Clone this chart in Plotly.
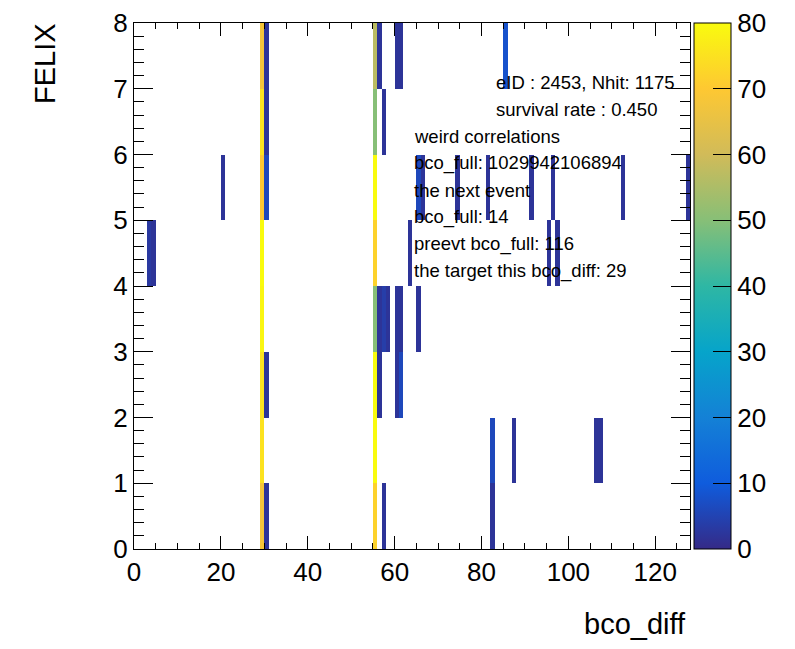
import plotly.graph_objects as go

# ---- data (bin index along bco_diff, FELIX row, bin content) ----
n_xbins = 128
n_ybins = 8
cell_x = [29, 29, 29, 29, 29, 29, 29, 29,
          30, 30, 30, 30, 30,
          20, 3, 4,
          55, 55, 55, 55, 55, 55, 55, 55,
          56, 56, 56,
          57, 57, 57,
          58,
          60, 60, 60,
          61, 61, 61,
          63, 65, 65, 66, 74, 81, 82, 82, 85, 87, 91, 95, 96, 97,
          106, 107, 112, 127]
cell_y = [0, 1, 2, 3, 4, 5, 6, 7,
          7, 6, 5, 2, 0,
          5, 4, 4,
          0, 1, 2, 3, 4, 5, 6, 7,
          7, 3, 2,
          6, 3, 0,
          3,
          7, 3, 2,
          7, 3, 2,
          4, 5, 3, 5, 5, 5, 1, 0, 7, 1, 5, 4, 5, 4,
          1, 1, 5, 5]
cell_val = [68, 75, 75, 79, 80, 70, 75, 68,
            2, 2, 6, 2, 2,
            2, 3, 2,
            72, 80, 80, 50, 72, 80, 50, 57,
            2, 2, 2,
            2, 4, 2,
            2,
            2, 2, 2,
            2, 2, 6,
            2, 6, 2, 2, 2, 2, 6, 2, 8, 2, 2, 2, 2, 2,
            2, 2, 2, 2]

x_tick_vals = [0, 20, 40, 60, 80, 100, 120]
y_tick_vals = [0, 1, 2, 3, 4, 5, 6, 7, 8]
cbar_tick_vals = [0, 10, 20, 30, 40, 50, 60, 70, 80]
info_lines = ["eID : 2453, Nhit: 1175", "survival rate : 0.450"]
note_lines = ["weird correlations", "bco_full: 1029942106894", "the next event",
              "bco_full: 14", "preevt bco_full: 116", "the target this bco_diff: 29"]

# ---- build grid ----
z = [[None] * n_xbins for _ in range(n_ybins)]
for bx, by, v in zip(cell_x, cell_y, cell_val):
    z[by][bx] = v
x_centers = [i + 0.5 for i in range(n_xbins)]
y_centers = [j + 0.5 for j in range(n_ybins)]

# ROOT kBird palette
stops = [0.0, 0.125, 0.25, 0.375, 0.5, 0.625, 0.75, 0.875, 1.0]
red = [0.2082, 0.0592, 0.0780, 0.0232, 0.1802, 0.5301, 0.8186, 0.9956, 0.9764]
green = [0.1664, 0.3599, 0.5041, 0.6419, 0.7178, 0.7492, 0.7328, 0.7862, 0.9832]
blue = [0.5293, 0.8684, 0.8385, 0.7914, 0.6425, 0.4662, 0.3499, 0.1968, 0.0539]
colorscale = [[s, "rgb(%d,%d,%d)" % (round(r * 255), round(g * 255), round(b * 255))]
              for s, r, g, b in zip(stops, red, green, blue)]

W, H = 795, 649
L, R, T, B = 134, 690, 23, 549
pw, ph = R - L, B - T

def px_x(xp):
    return (xp - L) / pw

def px_y(yp):
    return (B - yp) / ph

FONT = "Liberation Sans, Arial, Helvetica, sans-serif"

fig = go.Figure(go.Heatmap(
    x=x_centers, y=y_centers, z=z,
    zmin=0, zmax=80, colorscale=colorscale,
    hoverongaps=False,
    colorbar=dict(
        x=px_x(694), xanchor="left", xpad=0,
        y=0.5, yanchor="middle", ypad=0,
        len=1, lenmode="fraction",
        thickness=37, thicknessmode="pixels",
        outlinewidth=1, outlinecolor="black",
        ticks="inside", ticklen=18, tickcolor="black", tickwidth=1,
        tickvals=cbar_tick_vals,
        tickfont=dict(family=FONT, size=26, color="black"),
    ),
))

axis_common = dict(
    showgrid=False, zeroline=False, showline=True, linecolor="black", linewidth=1,
    mirror="allticks", ticks="inside", tickcolor="black", tickwidth=1,
    tickfont=dict(family=FONT, size=26, color="black"),
    automargin=False,
)
fig.update_xaxes(range=[0, 128], tickvals=x_tick_vals, ticklen=13,
                 minor=dict(ticks="inside", ticklen=6, dtick=5, tick0=0, tickcolor="black", showgrid=False),
                 **axis_common)
fig.update_yaxes(range=[0, 8], tickvals=y_tick_vals, ticklen=19,
                 minor=dict(ticks="inside", ticklen=10, dtick=0.2, tick0=0, tickcolor="black", showgrid=False),
                 **axis_common)

annotations = []
y0 = 83
step = 26.8
for i, t in enumerate(info_lines):
    annotations.append(dict(x=px_x(494), y=px_y(y0 + i * step), xref="paper", yref="paper",
                            text=t, showarrow=False, xanchor="left", yanchor="middle",
                            font=dict(family=FONT, size=18.5, color="black")))
for i, t in enumerate(note_lines):
    annotations.append(dict(x=px_x(412), y=px_y(y0 + (i + 2) * step), xref="paper", yref="paper",
                            text=t, showarrow=False, xanchor="left", yanchor="middle",
                            font=dict(family=FONT, size=18.5, color="black")))
annotations.append(dict(x=px_x(45), y=px_y(64), xref="paper", yref="paper", text="FELIX",
                        textangle=-90, showarrow=False, xanchor="center", yanchor="middle",
                        font=dict(family=FONT, size=29, color="black")))
annotations.append(dict(x=px_x(688), y=px_y(624), xref="paper", yref="paper", text="bco_diff",
                        showarrow=False, xanchor="right", yanchor="middle",
                        font=dict(family=FONT, size=29, color="black")))

fig.update_layout(
    width=W, height=H, autosize=False,
    margin=dict(l=L, r=W - R, t=T, b=H - B, pad=0, autoexpand=False),
    paper_bgcolor="white", plot_bgcolor="white",
    annotations=annotations, showlegend=False,
)

fig.write_html("out.html")
